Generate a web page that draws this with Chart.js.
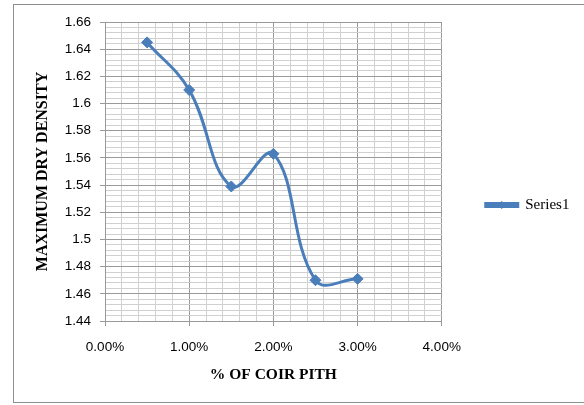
<!DOCTYPE html>
<html>
<head>
<meta charset="utf-8">
<script src="https://cdn.jsdelivr.net/npm/chart.js@4"></script>
<style>
  html, body { margin: 0; padding: 0; background: #ffffff; }
  #wrap { width: 584px; height: 405px; }
</style>
</head>
<body>
<div id="wrap"><canvas id="c" width="584" height="405"></canvas></div>
<script>
// ---- data ----
const coirPithPercent = [0.5, 1.0, 1.5, 2.0, 2.5, 3.0];
const maxDryDensity = [1.645, 1.61, 1.539, 1.563, 1.47, 1.471];
const seriesName = 'Series1';
const xTickLabels = ['0.00%', '1.00%', '2.00%', '3.00%', '4.00%'];
const yTickLabels = ['1.44', '1.46', '1.48', '1.5', '1.52', '1.54', '1.56', '1.58', '1.6', '1.62', '1.64', '1.66'];
const xTitle = '% OF COIR PITH';
const yTitle = 'MAXIMUM DRY DENSITY';

// axis ranges & subdivisions (5 minor steps per labelled step)
const xMin = 0, xMax = 4, xMajor = 1;
const yMin = 1.44, yMax = 1.66, yMajor = 0.02;
const minorPerMajor = 5;

const lineColor = '#4a7ebb';
const majorGrid = '#9a9a9a';
const minorGrid = '#d0d0d0';

function buildTicks(min, major, labels) {
  const out = [];
  const n = (labels.length - 1) * minorPerMajor;
  for (let i = 0; i <= n; i++) {
    out.push({ value: min + i * major / minorPerMajor });
  }
  return out;
}

const borderPlugin = {
  id: 'outerBorder',
  beforeDraw(chart) {
    const ctx = chart.ctx;
    ctx.save();
    ctx.fillStyle = '#ffffff';
    ctx.fillRect(0, 0, chart.width, chart.height);
    ctx.strokeStyle = '#8e8e8e';
    ctx.lineWidth = 1;
    ctx.strokeRect(13.5, 4.5, 620, 398);
    ctx.restore();
  }
};

const legendMarkerPlugin = {
  id: 'legendMarker',
  afterDraw(chart) {
    const lg = chart.legend;
    if (!lg || !lg.legendHitBoxes || !lg.legendHitBoxes.length) return;
    const hb = lg.legendHitBoxes[0];
    const bw = lg.options.labels.boxWidth;
    const cx = hb.left + bw / 2;
    const cy = hb.top + hb.height / 2;
    const ctx = chart.ctx;
    ctx.save();
    ctx.fillStyle = lineColor;
    ctx.beginPath();
    const r = 4;
    ctx.moveTo(cx, cy - r);
    ctx.lineTo(cx + r, cy);
    ctx.lineTo(cx, cy + r);
    ctx.lineTo(cx - r, cy);
    ctx.closePath();
    ctx.fill();
    ctx.restore();
  }
};

new Chart(document.getElementById('c'), {
  type: 'line',
  data: {
    datasets: [{
      label: seriesName,
      data: coirPithPercent.map((x, i) => ({ x: x, y: maxDryDensity[i] })),
      borderColor: lineColor,
      backgroundColor: lineColor,
      borderWidth: 3,
      tension: 0.4,
      pointStyle: 'rectRot',
      pointRadius: 5.5,
      pointHoverRadius: 5.5,
      pointBackgroundColor: lineColor,
      pointBorderColor: lineColor,
      pointBorderWidth: 1,
      fill: false
    }]
  },
  options: {
    responsive: false,
    animation: false,
    devicePixelRatio: 1,
    layout: { padding: { left: 30, top: 22, right: 5, bottom: 17 } },
    plugins: {
      tooltip: { enabled: false },
      legend: {
        position: 'right',
        align: 'center',
        labels: {
          boxWidth: 32,
          boxHeight: 3,
          padding: 44,
          color: '#000000',
          font: { family: '"Liberation Serif", "Times New Roman", serif', size: 15 }
        }
      }
    },
    scales: {
      x: {
        type: 'linear',
        min: xMin,
        max: xMax,
        afterBuildTicks(scale) { scale.ticks = buildTicks(xMin, xMajor, xTickLabels); },
        afterFit(scale) { scale.height = 67; },
        ticks: {
          autoSkip: false,
          maxRotation: 0,
          minRotation: 0,
          padding: 13,
          color: '#000000',
          font: { family: '"Liberation Sans", Arial, sans-serif', size: 13.5 },
          callback(value, index) {
            return index % minorPerMajor === 0 ? xTickLabels[index / minorPerMajor] : '';
          }
        },
        grid: {
          color: (c) => (c.index % minorPerMajor === 0 ? majorGrid : minorGrid),
          tickColor: (c) => (c.index % minorPerMajor === 0 ? majorGrid : 'rgba(0,0,0,0)'),
          tickLength: 5,
          lineWidth: 1
        },
        border: { color: majorGrid, width: 1 },
        title: {
          display: true,
          text: xTitle,
          color: '#000000',
          font: { family: '"Liberation Serif", "Times New Roman", serif', size: 15.5, weight: 'bold' },
          padding: { top: 4, bottom: 4 }
        }
      },
      y: {
        type: 'linear',
        min: yMin,
        max: yMax,
        afterBuildTicks(scale) { scale.ticks = buildTicks(yMin, yMajor, yTickLabels); },
        afterFit(scale) { scale.width = 75; },
        ticks: {
          autoSkip: false,
          padding: 9,
          color: '#000000',
          font: { family: '"Liberation Sans", Arial, sans-serif', size: 13.5 },
          callback(value, index) {
            return index % minorPerMajor === 0 ? yTickLabels[index / minorPerMajor] : '';
          }
        },
        grid: {
          color: (c) => (c.index % minorPerMajor === 0 ? majorGrid : minorGrid),
          tickColor: (c) => (c.index % minorPerMajor === 0 ? majorGrid : 'rgba(0,0,0,0)'),
          tickLength: 5,
          lineWidth: 1
        },
        border: { color: majorGrid, width: 1 },
        title: {
          display: true,
          text: yTitle,
          color: '#000000',
          font: { family: '"Liberation Serif", "Times New Roman", serif', size: 16, weight: 'bold' },
          padding: { top: 3, bottom: 4 }
        }
      }
    }
  },
  plugins: [borderPlugin, legendMarkerPlugin]
});
</script>
</body>
</html>
